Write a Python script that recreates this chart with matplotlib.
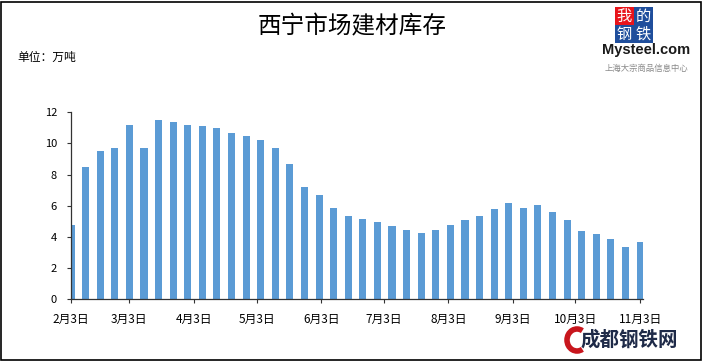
import numpy as np
import pandas as pd
import matplotlib
matplotlib.use("Agg")
import matplotlib.pyplot as plt
from matplotlib.patches import Rectangle, Arc

plt.rcParams['font.family'] = ['Noto Sans CJK SC', 'DejaVu Sans']

# weekly stock (10k tonnes), first week starts on Feb 3
start = "2018-02-03"
stock = [4.77, 8.49, 9.52, 9.71, 11.19, 9.71, 11.51, 11.38, 11.19, 11.12,
         10.99, 10.67, 10.48, 10.22, 9.71, 8.68, 7.21, 6.70, 5.86, 5.35,
         5.16, 4.96, 4.71, 4.45, 4.26, 4.45, 4.77, 5.09, 5.35, 5.80,
         6.18, 5.86, 6.05, 5.60, 5.09, 4.39, 4.19, 3.87, 3.36, 3.68]
tick_dates = ["2018-02-03", "2018-03-03", "2018-04-03", "2018-05-03", "2018-06-03",
              "2018-07-03", "2018-08-03", "2018-09-03", "2018-10-03", "2018-11-03"]
tick_labels = ["2月3日", "3月3日", "4月3日", "5月3日", "6月3日",
               "7月3日", "8月3日", "9月3日", "10月3日", "11月3日"]
title = "西宁市场建材库存"
unit = "单位：万吨"

W, H = 704, 362
fig = plt.figure(figsize=(W / 100, H / 100), dpi=100)

# chart area in pixels: x 71..643, y 112..299
ax = fig.add_axes([71 / W, 1 - 299.3 / H, (643 - 71) / W, (299.3 - 112.3) / H])

dates = pd.date_range(start, periods=len(stock), freq="7D")
ax.bar(dates, stock, width=3.4, color="#5B9BD5", zorder=2)

ticks = pd.to_datetime(tick_dates)
ax.set_xlim(ticks[0], ticks[-1] + pd.Timedelta(days=1.4))
ax.set_xticks(ticks)
ax.set_xticklabels(tick_labels, fontsize=8.5)
ax.set_ylim(0, 12)
ax.set_yticks(np.arange(0, 13, 2))
ax.tick_params(axis="y", labelsize=8, length=3, width=0.8, pad=7, color="#333333")
ax.tick_params(axis="x", length=3, width=0.8, pad=7, color="#333333")

for s in ["top", "right"]:
    ax.spines[s].set_visible(False)
for s in ["left", "bottom"]:
    ax.spines[s].set_color("#333333")
    ax.spines[s].set_linewidth(0.9)

# overlay in pixel coords for title, unit, logos and border
ov = fig.add_axes([0, 0, 1, 1])
ov.set_xlim(0, W)
ov.set_ylim(H, 0)
ov.axis("off")
ov.patch.set_alpha(0)

ov.text(352, 27, title, fontsize=17, ha="center", va="center", color="black")
ov.text(17, 57, unit, fontsize=8.5, ha="left", va="center", color="black")

# Mysteel logo
cells = [("我", 615, 7, "#E8141B"), ("的", 634, 7, "#1F4E9C"),
         ("钢", 615, 25, "#1F4E9C"), ("铁", 634, 25, "#1F4E9C")]
for ch, x, y, c in cells:
    ov.add_patch(Rectangle((x, y), 18.5, 18, color=c, lw=0))
    ov.text(x + 9.25, y + 9.5, ch, fontsize=11, ha="center", va="center",
            color="white")
ov.text(646, 50, "Mysteel.com", fontsize=10.5, ha="center", va="center",
        color="#1a1a1a", family="Liberation Sans", fontweight="bold")
ov.text(646, 68, "上海大宗商品信息中心", fontsize=6, ha="center", va="center",
        color="#888888")

# bottom watermark
ov.add_patch(Arc((577, 340), 20, 22, theta1=60, theta2=300, color="#C8161D", lw=4))
ov.text(629, 340, "成都钢铁网", fontsize=14, ha="center", va="center",
        color="#1E2A48", fontweight="bold")

# border
ov.add_patch(Rectangle((1, 1.5), 700, 358.5, fill=False, ec="black", lw=1.2))

fig.savefig("out.png", dpi=100)
